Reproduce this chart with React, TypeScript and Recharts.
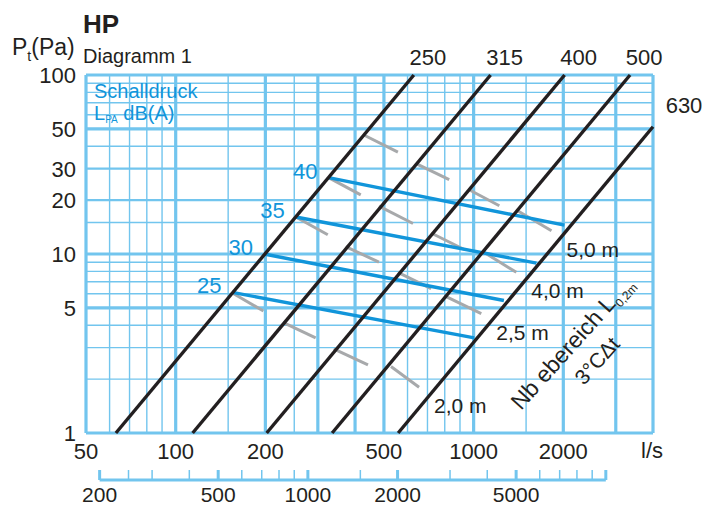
import React from 'react';
import { ComposedChart, Line, Scatter, XAxis, YAxis, CartesianGrid } from 'recharts';

// duct sizes (black lines), flow l/s vs pressure Pa
const ductSizes = ['250', '315', '400', '500', '630'];
const duct250 = [{ q: 63, p: 1 }, { q: 630, p: 100 }];
const duct315 = [{ q: 114, p: 1 }, { q: 1140, p: 100 }];
const duct400 = [{ q: 202, p: 1 }, { q: 2020, p: 100 }];
const duct500 = [{ q: 335, p: 1 }, { q: 3350, p: 100 }];
const duct630 = [{ q: 558, p: 1 }, { q: 4000, p: 51.4 }];

// Schalldruck lines (blue)
const soundLevels = ['25', '30', '35', '40'];
const sound25 = [{ q: 155, p: 6.1 }, { q: 1005, p: 3.4 }];
const sound30 = [{ q: 198, p: 10 }, { q: 1264, p: 5.5 }];
const sound35 = [{ q: 253, p: 16.1 }, { q: 1625, p: 8.9 }];
const sound40 = [{ q: 326, p: 26.7 }, { q: 2018, p: 14.5 }];

// throw distance segments (gray), consecutive pairs = one segment
const throwLabels = ['2,0 m', '2,5 m', '4,0 m', '5,0 m'];
const throw20 = [
  { q: 155, p: 6.05 }, { q: 197, p: 4.8 },
  { q: 229, p: 4.15 }, { q: 295, p: 3.4 },
  { q: 339, p: 2.95 }, { q: 442, p: 2.4 },
  { q: 528, p: 2.35 }, { q: 656, p: 1.8 },
];
const throw25 = [
  { q: 253, p: 16.1 }, { q: 324, p: 12.8 },
  { q: 372, p: 11.0 }, { q: 481, p: 9.0 },
  { q: 557, p: 7.9 }, { q: 720, p: 6.4 },
  { q: 796, p: 5.85 }, { q: 1061, p: 4.65 },
];
const throw40 = [
  { q: 326, p: 26.7 }, { q: 418, p: 21.4 },
  { q: 481, p: 18.5 }, { q: 626, p: 14.8 },
  { q: 720, p: 13.1 }, { q: 930, p: 10.6 },
  { q: 1086, p: 10.2 }, { q: 1391, p: 7.9 },
];
const throw50 = [
  { q: 428, p: 46.2 }, { q: 557, p: 37.1 },
  { q: 641, p: 32.0 }, { q: 828, p: 26.0 },
  { q: 959, p: 23.0 }, { q: 1220, p: 18.6 },
  { q: 1391, p: 17.6 }, { q: 1825, p: 13.5 },
];

// axes
const flowTicks = [50, 100, 200, 500, 1000, 2000];
const pressureTicks = [1, 5, 10, 20, 30, 50, 100];
// second scale in m³/h (= l/s * 3.6)
const m3hTicks = [200, 250, 300, 400, 500, 600, 700, 800, 900, 1000, 1500, 2000, 3000, 4000, 5000, 6000, 7000, 8000, 9000, 10000];
const m3hLabels = [200, 500, 1000, 2000, 5000];
const m3hMajor = [200, 500, 1000, 2000, 5000, 10000];
const m3hRange = [{ m: 200, v: 0 }, { m: 10000, v: 0 }];

// grid
const xThin = [60, 70, 80, 90, 150, 250, 600, 700, 800, 900, 1500];
const xThick = [50, 100, 200, 300, 400, 500, 1000, 2000, 3000, 4000];
const yThin = [2, 3, 4, 6, 7, 8, 9, 15, 40, 60, 70, 80, 90];
const yMid = [20, 30];
const yThick = [1, 5, 10, 50, 100];

const gridBlue = '#72c5ee';
const black = '#231f20';
const blue = '#1195da';
const gray = '#a7a9ab';
const font = '"Liberation Sans", Arial, sans-serif';

const ducts = [duct250, duct315, duct400, duct500, duct630];
const sounds = [sound25, sound30, sound35, sound40];
const throws = [throw20, throw25, throw40, throw50];

const pairs = (pts) => {
  const out = [];
  for (let i = 0; i < pts.length; i += 2) out.push([pts[i], pts[i + 1]]);
  return out;
};

const ductLabelPts = ducts.map((d, i) => ({ ...d[1], label: ductSizes[i] }));
const soundLabelPts = sounds.map((d, i) => ({ ...d[0], label: soundLevels[i] }));
const throwLabelPts = throws.map((d, i) => ({ ...d[d.length - 1], label: throwLabels[i] }));

const FlowTick = ({ x, y, payload }) => (
  <text x={x} y={y + 26} textAnchor="middle" fontSize={22} fill={black} fontFamily={font}>
    {payload.value}
  </text>
);

const PressureTick = ({ x, y, payload }) => (
  <text x={x - 10} y={y + 8} textAnchor="end" fontSize={22} fill={black} fontFamily={font}>
    {payload.value}
  </text>
);

const M3hTick = ({ x, y, payload }) => {
  const v = payload.value;
  const major = m3hMajor.includes(v);
  return (
    <g>
      <line x1={x} x2={x} y1={y - 10} y2={y} stroke={gridBlue} strokeWidth={major ? 3 : 1.5} />
      {m3hLabels.includes(v) && (
        <text x={x} y={y + 22} textAnchor="middle" fontSize={21} fill={black} fontFamily={font}>
          {v}
        </text>
      )}
    </g>
  );
};

const DuctLabel = ({ cx, cy, payload }) => {
  const edge = payload.q >= 4000;
  return (
    <text x={cx + (edge ? 31 : 14)} y={cy - (edge ? 14 : 10)} textAnchor="middle" fontSize={22} fill={black} fontFamily={font}>
      {payload.label}
    </text>
  );
};

const SoundLabel = ({ cx, cy, payload }) => (
  <text x={cx - 11} y={cy + 1} textAnchor="end" fontSize={22} fill={blue} fontFamily={font}>
    {payload.label}
  </text>
);

const ThrowLabel = ({ cx, cy, payload }) => (
  <text x={cx + 15} y={cy + 26} textAnchor="start" fontSize={21} fill={black} fontFamily={font}>
    {payload.label}
  </text>
);

export default function App() {
  return (
    <div style={{ position: 'absolute', left: 0, top: 0, width: 707, height: 507, background: '#fff' }}>
      <ComposedChart width={707} height={507} margin={{ top: 75, right: 54, bottom: 0, left: 26 }}>
        <CartesianGrid verticalValues={xThin} horizontalValues={yThin} stroke={gridBlue} strokeWidth={1.4} />
        <CartesianGrid vertical={false} horizontalValues={yMid} stroke={gridBlue} strokeWidth={2.2} />
        <CartesianGrid verticalValues={xThick} horizontalValues={yThick} stroke={gridBlue} strokeWidth={3.2} />
        <XAxis
          dataKey="q"
          type="number"
          scale="log"
          domain={[50, 4000]}
          ticks={flowTicks}
          interval={0}
          height={74}
          tickSize={0}
          tickMargin={0}
          axisLine={false}
          tickLine={false}
          tick={FlowTick}
        />
        <YAxis
          dataKey="p"
          type="number"
          scale="log"
          domain={[1, 100]}
          ticks={pressureTicks}
          interval={0}
          width={60}
          tickSize={0}
          tickMargin={0}
          axisLine={false}
          tickLine={false}
          tick={PressureTick}
        />
        {throws.map((t, i) =>
          pairs(t).map((seg, j) => (
            <Line key={`t${i}-${j}`} data={seg} dataKey="p" stroke={gray} strokeWidth={3} dot={false} isAnimationActive={false} />
          ))
        )}
        {sounds.map((s, i) => (
          <Line key={`s${i}`} data={s} dataKey="p" stroke={blue} strokeWidth={3.4} dot={false} isAnimationActive={false} />
        ))}
        {ducts.map((d, i) => (
          <Line key={`d${i}`} data={d} dataKey="p" stroke={black} strokeWidth={3.4} dot={false} isAnimationActive={false} />
        ))}
        <Scatter data={ductLabelPts} dataKey="p" shape={DuctLabel} isAnimationActive={false} />
        <Scatter data={soundLabelPts} dataKey="p" shape={SoundLabel} isAnimationActive={false} />
        <Scatter data={throwLabelPts} dataKey="p" shape={ThrowLabel} isAnimationActive={false} />
      </ComposedChart>

      {/* m³/h scale under the l/s axis */}
      <div style={{ position: 'absolute', left: 0, top: 433 }}>
        <ComposedChart width={707} height={74} margin={{ top: 37, right: 54, bottom: 0, left: 86 }}>
          <XAxis
            dataKey="m"
            type="number"
            scale="log"
            domain={[180, 14400]}
            ticks={m3hTicks}
            interval={0}
            height={27}
            tickSize={0}
            tickMargin={0}
            axisLine={false}
            tickLine={false}
            tick={M3hTick}
          />
          <YAxis hide type="number" domain={[0, 1]} />
          <Line data={m3hRange} dataKey="v" stroke={gridBlue} strokeWidth={3} dot={false} isAnimationActive={false} />
        </ComposedChart>
      </div>

      <svg
        width={707}
        height={507}
        style={{ position: 'absolute', left: 0, top: 0, pointerEvents: 'none', overflow: 'visible' }}
        fontFamily={font}
      >
        <text x={83} y={33} fontSize={26} fontWeight="bold" fill={black}>HP</text>
        <text x={12} y={55} fontSize={23} fill={black}>
          P<tspan fontSize={14} dy={6}>t</tspan><tspan dy={-6}>(Pa)</tspan>
        </text>
        <text x={83} y={63} fontSize={20} fill={black}>Diagramm 1</text>
        <text x={94} y={98} fontSize={20} fill={blue}>Schalldruck</text>
        <text x={94} y={120} fontSize={20} fill={blue}>
          L<tspan fontSize={10} dy={3}>PA</tspan><tspan dy={-3}> dB(A)</tspan>
        </text>
        <text x={641} y={458} fontSize={22} fill={black}>l/s</text>
        <g transform="translate(521,411) rotate(-48)">
          <text x={0} y={0} fontSize={23} fill={black}>
            Nb ebereich L<tspan fontSize={12} dy={5}>0,2m</tspan>
          </text>
        </g>
        <g transform="translate(584,386) rotate(-48)">
          <text x={0} y={0} fontSize={21} fill={black}>3°CΔt</text>
        </g>
      </svg>
    </div>
  );
}
